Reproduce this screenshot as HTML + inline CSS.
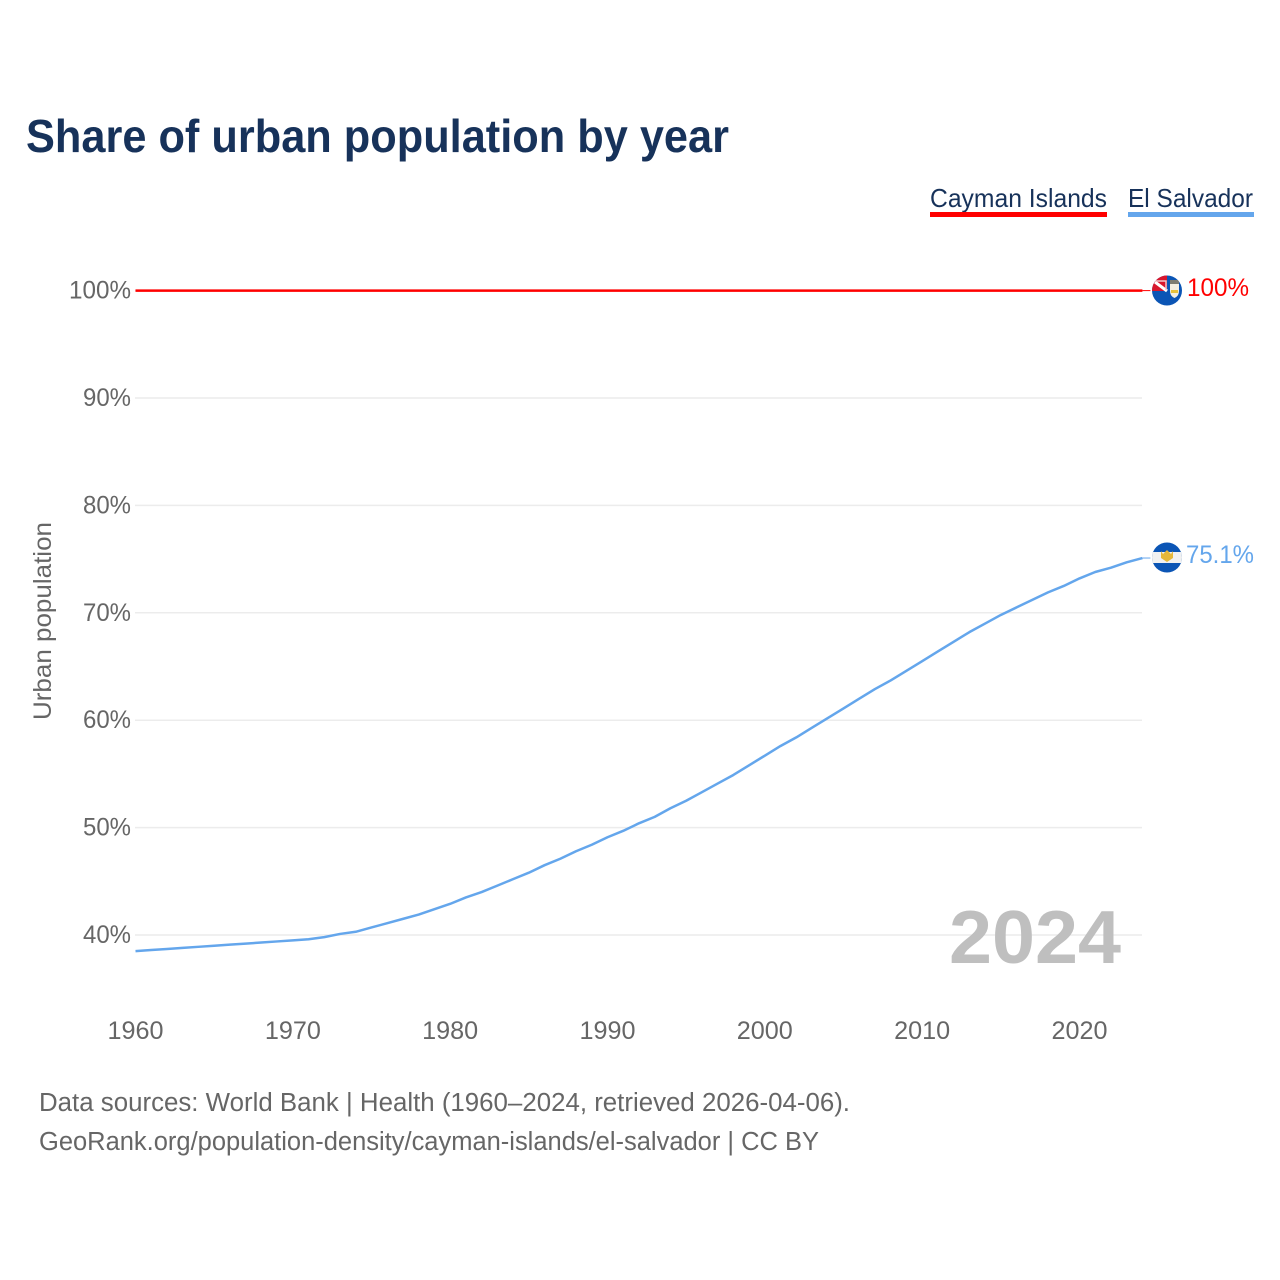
<!DOCTYPE html>
<html lang="en">
<head>
<meta charset="utf-8">
<title>Share of urban population by year</title>
<style>
html,body{margin:0;padding:0;background:#fff;width:1280px;height:1280px;overflow:hidden}
svg{display:block}
text{font-family:"Liberation Sans",sans-serif}
</style>
</head>
<body>
<svg id="chart" xmlns="http://www.w3.org/2000/svg" width="1280" height="1280" viewBox="0 0 1280 1280">
  <defs>
    <clipPath id="clip-a"><circle cx="1167" cy="290.500" r="15"/></clipPath>
    <clipPath id="clip-b"><circle cx="1167" cy="557.500" r="15"/></clipPath>
  </defs>
  <text x="26" y="152" font-size="46" font-weight="700" fill="#17325a" textLength="703" lengthAdjust="spacingAndGlyphs">Share of urban population by year</text>

  <g>
    <text x="930" y="207" font-size="26" fill="#17325a" textLength="177" lengthAdjust="spacingAndGlyphs">Cayman Islands</text>
    <rect x="930" y="212" width="177" height="5" fill="#ff0000"/>
  </g>
  <g>
    <text x="1128" y="207" font-size="26" fill="#17325a" textLength="125" lengthAdjust="spacingAndGlyphs">El Salvador</text>
    <rect x="1128" y="212" width="126" height="5" fill="#64a6ec"/>
  </g>

  <g id="grid"></g>
  <g id="yticks"></g>
  <g id="xticks"></g>

  <text transform="translate(51,621) rotate(-90)" text-anchor="middle" font-size="25" fill="#666666" textLength="198" lengthAdjust="spacingAndGlyphs">Urban population</text>

  <text x="949" y="963" font-size="75" font-weight="700" fill="#bfbfbf" textLength="172" lengthAdjust="spacingAndGlyphs">2024</text>

  <g id="series"></g>

  <g clip-path="url(#clip-a)">
    <rect x="1152" y="275" width="30" height="31" fill="#0b55b5"/>
    <rect x="1152" y="275" width="15" height="16" fill="#d9162c"/>
    <path d="M1155 282 L1167 291" stroke="#ffffff" stroke-width="3"/>
    <path d="M1155 281 H1166 V290" fill="none" stroke="#f3c5c9" stroke-width="1.500"/>
    <path d="M1170 283 h9 v8 q0 5 -4.500 7 q-4.500 -2 -4.500 -7 z" fill="#f3efe0"/>
    <rect x="1170" y="280" width="9" height="4" fill="#7d7d70"/>
    <rect x="1171" y="290" width="7" height="3" fill="#e8c23a"/>
  </g>
  <g clip-path="url(#clip-b)">
    <rect x="1152" y="542" width="30" height="31" fill="#0b55b5"/>
    <rect x="1152" y="552" width="30" height="11" fill="#f1f1f1"/>
    <path d="M1161 551 l2 3 l4 -4 l4 4 l2 -3 v7 l-6 4 l-6 -4 z" fill="#e6b83a"/>
  </g>

  <text id="label-a" x="1187" y="296" font-size="25" fill="#ff0000" textLength="62" lengthAdjust="spacingAndGlyphs">100%</text>
  <text id="label-b" x="1186" y="563" font-size="25" fill="#64a6ec" textLength="68" lengthAdjust="spacingAndGlyphs">75.1%</text>

  <text x="39" y="1111" font-size="25.500" fill="#666666" textLength="811" lengthAdjust="spacingAndGlyphs">Data sources: World Bank | Health (1960–2024, retrieved 2026-04-06).</text>
  <text x="39" y="1150" font-size="25.500" fill="#666666" textLength="780" lengthAdjust="spacingAndGlyphs">GeoRank.org/population-density/cayman-islands/el-salvador | CC BY</text>
</svg>
<script>
const years = [1960,1961,1962,1963,1964,1965,1966,1967,1968,1969,1970,1971,1972,1973,1974,1975,1976,1977,1978,1979,1980,1981,1982,1983,1984,1985,1986,1987,1988,1989,1990,1991,1992,1993,1994,1995,1996,1997,1998,1999,2000,2001,2002,2003,2004,2005,2006,2007,2008,2009,2010,2011,2012,2013,2014,2015,2016,2017,2018,2019,2020,2021,2022,2023,2024];
const caymanIslands = [100,100,100,100,100,100,100,100,100,100,100,100,100,100,100,100,100,100,100,100,100,100,100,100,100,100,100,100,100,100,100,100,100,100,100,100,100,100,100,100,100,100,100,100,100,100,100,100,100,100,100,100,100,100,100,100,100,100,100,100,100,100,100,100,100];
const elSalvador = [38.5,38.6,38.7,38.8,38.9,39.0,39.1,39.2,39.3,39.4,39.5,39.6,39.8,40.1,40.3,40.7,41.1,41.5,41.9,42.4,42.9,43.5,44.0,44.6,45.2,45.8,46.5,47.1,47.8,48.4,49.1,49.7,50.4,51.0,51.8,52.5,53.3,54.1,54.9,55.8,56.7,57.6,58.4,59.3,60.2,61.1,62.0,62.9,63.7,64.6,65.5,66.4,67.3,68.2,69.0,69.8,70.5,71.2,71.9,72.5,73.2,73.8,74.2,74.7,75.1];
const yTicks = [40,50,60,70,80,90,100];
const xTicks = [1960,1970,1980,1990,2000,2010,2020];

const NS = 'http://www.w3.org/2000/svg';
function xScale(year){ return 135.500 + (year - 1960) * 15.733; }
function yScale(pct){ return 935 - (pct - 40) * 10.74; }

const grid = document.getElementById('grid');
const yGroup = document.getElementById('yticks');
const xGroup = document.getElementById('xticks');

yTicks.forEach(function(t){
  const line = document.createElementNS(NS, 'line');
  
  
  line.setAttribute('x1', 135);
  line.setAttribute('x2', 1142);
  line.setAttribute('y1', yScale(t));
  line.setAttribute('y2', yScale(t));
  line.setAttribute('stroke', '#ececec');
  line.setAttribute('stroke-width', '1.500');
  grid.appendChild(line);

  const label = document.createElementNS(NS, 'text');
  
  
  const str = t + '%';
  label.setAttribute('x', 131 - (str.length - 1) * 14 - 20);
  label.setAttribute('y', yScale(t) + 8);
  label.setAttribute('font-size', '25');
  label.setAttribute('fill', '#666666');
  label.setAttribute('textLength', (str.length - 1) * 14 + 20);
  label.setAttribute('lengthAdjust', 'spacingAndGlyphs');
  label.textContent = str;
  yGroup.appendChild(label);
});

xTicks.forEach(function(t){
  const label = document.createElementNS(NS, 'text');
  
  
  label.setAttribute('x', xScale(t) - 28);
  label.setAttribute('y', 1039);
  label.setAttribute('font-size', '25');
  label.setAttribute('fill', '#666666');
  label.setAttribute('textLength', 56);
  label.setAttribute('lengthAdjust', 'spacingAndGlyphs');
  label.textContent = String(t);
  xGroup.appendChild(label);
});

function drawSeries(values, color, name){
  const group = document.getElementById('series');
  const path = document.createElementNS(NS, 'path');
  const d = values.map(function(v, i){
    return (i ? 'L' : 'M') + xScale(years[i]).toFixed(2) + ' ' + yScale(v).toFixed(2);
  }).join(' ');
  
  
  path.setAttribute('d', d);
  path.setAttribute('fill', 'none');
  path.setAttribute('stroke', color);
  path.setAttribute('stroke-width', '2.500');
  path.setAttribute('stroke-linejoin', 'round');
  group.appendChild(path);

  const last = values[values.length - 1];
  const lead = document.createElementNS(NS, 'line');
  
  
  lead.setAttribute('x1', xScale(years[years.length - 1]));
  lead.setAttribute('x2', xScale(years[years.length - 1]) + 8);
  lead.setAttribute('y1', yScale(last));
  lead.setAttribute('y2', yScale(last));
  lead.setAttribute('stroke', color);
  lead.setAttribute('stroke-width', '1');
  group.appendChild(lead);
}
drawSeries(caymanIslands, '#ff0000', 'line-cayman-islands');
drawSeries(elSalvador, '#64a6ec', 'line-el-salvador');
</script>
</body>
</html>
